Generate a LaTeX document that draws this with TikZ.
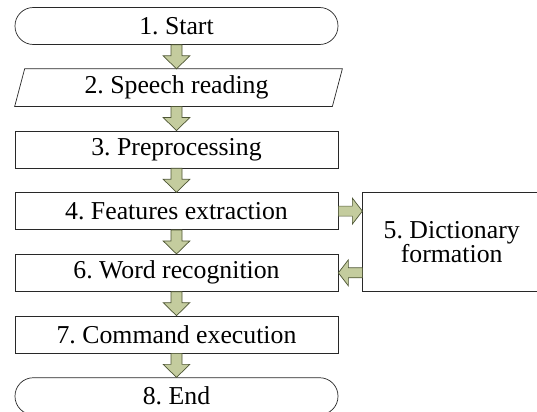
\documentclass[tikz,border=0pt]{standalone}
\usepackage{fontspec}
\setmainfont{Liberation Serif}
\usepackage{tikz}
\usetikzlibrary{positioning, calc}
\usepackage{xcolor}
\definecolor{arrowfill}{RGB}{196,204,158}
\definecolor{arrowline}{RGB}{78,86,52}
\definecolor{boxline}{RGB}{40,40,40}
\tikzset{
  stepbox/.style={
    rectangle, draw=boxline, line width=0.6pt, fill=white,
    minimum width=9.69cm, minimum height=1.11cm,
    inner sep=0pt, align=center,
    font=\fontsize{22}{21}\selectfont\frenchspacing
  },
  termbox/.style={
    stepbox, rounded corners=0.55cm
  },
  iobox/.style={
    stepbox, draw=none
  },
  dictbox/.style={
    stepbox, minimum width=5.34cm, minimum height=2.97cm
  },
  blockarrow/.style={
    draw=arrowline, fill=arrowfill, line width=0.6pt, line join=miter
  }
}
% block arrows between named nodes
\newcommand{\fatdown}[2]{%
  \draw[blockarrow] let \p1=(#1.south), \p2=(#2.north) in
    (\x1-0.165cm,\y1) -- (\x1-0.165cm,\y2+0.39cm) -- (\x1-0.4cm,\y2+0.39cm)
    -- (\x1,\y2) -- (\x1+0.4cm,\y2+0.39cm) -- (\x1+0.165cm,\y2+0.39cm)
    -- (\x1+0.165cm,\y1) -- cycle;}
\newcommand{\fatright}[2]{%
  \draw[blockarrow] let \p1=(#1.east), \p2=(#2.west) in
    (\x1,\y1+0.15cm) -- (\x2-0.3cm,\y1+0.15cm) -- (\x2-0.3cm,\y1+0.39cm)
    -- (\x2,\y1) -- (\x2-0.3cm,\y1-0.39cm) -- (\x2-0.3cm,\y1-0.15cm)
    -- (\x1,\y1-0.15cm) -- cycle;}
\newcommand{\fatleft}[2]{%
  \draw[blockarrow] let \p1=(#1.west), \p2=(#2.east) in
    (\x1,\y2+0.15cm) -- (\x2+0.3cm,\y2+0.15cm) -- (\x2+0.3cm,\y2+0.39cm)
    -- (\x2,\y2) -- (\x2+0.3cm,\y2-0.39cm) -- (\x2+0.3cm,\y2-0.15cm)
    -- (\x1,\y2-0.15cm) -- cycle;}

\begin{document}
\begin{tikzpicture}[node distance=0.72cm]
  \useasboundingbox (0,0) rectangle (16.11,-12.36);
  \clip (0,0) rectangle (16.11,-12.36);

  \node[termbox] (start) at (5.295,-0.78) {1. Start};
  \node[iobox, below=of start] (speech) {2. Speech reading};
  \draw[draw=boxline, line width=0.6pt]
    ($(speech.north west)+(0.3,0)$) -- ($(speech.north east)+(0.12,0)$)
    -- ($(speech.south east)+(-0.18,0)$) -- (speech.south west) -- cycle;
  \node[stepbox, below=of speech] (prep) {3. Preprocessing};
  \node[stepbox, below=of prep] (feat) {4. Features extraction};
  \node[stepbox, below=of feat] (word) {6. Word recognition};
  \node[stepbox, below=of word] (cmd) {7. Command execution};
  \node[termbox, below=of cmd] (end) {8. End};
  \node[dictbox, right=0.72cm of feat.north east, anchor=north west]
    (dict) {5. Dictionary\\formation};

  \fatdown{start}{speech}
  \fatdown{speech}{prep}
  \fatdown{prep}{feat}
  \fatdown{feat}{word}
  \fatdown{word}{cmd}
  \fatdown{cmd}{end}
  \fatright{feat}{dict}
  \fatleft{dict}{word}
\end{tikzpicture}
\end{document}
